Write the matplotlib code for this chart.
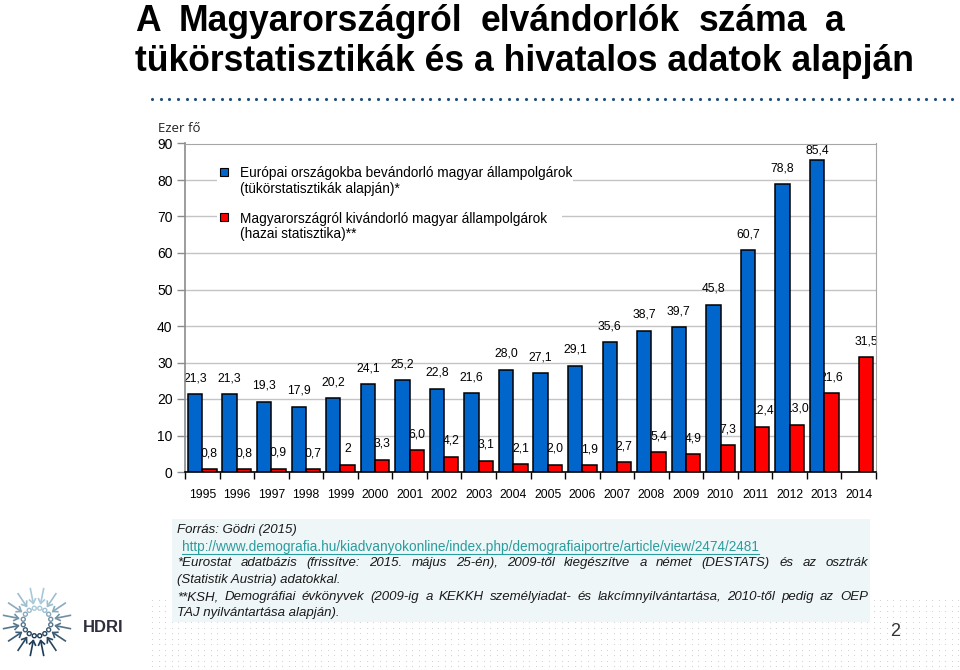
import matplotlib
matplotlib.use('Agg')
import matplotlib.pyplot as plt
import numpy as np
from matplotlib.patches import Rectangle, Circle

# ---------------- data ----------------
years = [str(y) for y in range(1995, 2015)]
mirror_values = [21.3, 21.3, 19.3, 17.9, 20.2, 24.1, 25.2, 22.8, 21.6, 28.0,
                 27.1, 29.1, 35.6, 38.7, 39.7, 45.8, 60.7, 78.8, 85.4, None]
mirror_labels = ['21,3', '21,3', '19,3', '17,9', '20,2', '24,1', '25,2', '22,8',
                 '21,6', '28,0', '27,1', '29,1', '35,6', '38,7', '39,7', '45,8',
                 '60,7', '78,8', '85,4', None]
domestic_values = [0.8, 0.8, 0.9, 0.7, 2, 3.3, 6.0, 4.2, 3.1, 2.1,
                   2.0, 1.9, 2.7, 5.4, 4.9, 7.3, 12.4, 13.0, 21.6, 31.5]
domestic_labels = ['0,8', '0,8', '0,9', '0,7', '2', '3,3', '6,0', '4,2', '3,1',
                   '2,1', '2,0', '1,9', '2,7', '5,4', '4,9', '7,3', '12,4',
                   '13,0', '21,6', '31,5']
y_ticks = [0, 10, 20, 30, 40, 50, 60, 70, 80, 90]
series_names = ['Európai országokba bevándorló magyar állampolgárok\n(tükörstatisztikák alapján)*',
                'Magyarországról kivándorló magyar állampolgárok\n(hazai statisztika)**']
title_lines = ['A Magyarországról elvándorlók száma a',
               'tükörstatisztikák és a hivatalos adatok alapján']
unit_label = 'Ezer fő'
source_line = 'Forrás: Gödri (2015)'
source_url = 'http://www.demografia.hu/kiadvanyokonline/index.php/demografiaiportre/article/view/2474/2481'
note_lines = [
    ('*Eurostat adatbázis (frissítve: 2015. május 25-én), 2009-től kiegészítve a német (DESTATS) és az osztrák', True),
    ('(Statistik Austria) adatokkal.', False),
    ('**KSH, Demográfiai évkönyvek (2009-ig a KEKKH személyiadat- és lakcímnyilvántartása, 2010-től pedig az OEP', True),
    ('TAJ nyilvántartása alapján).', False),
]
page_number = '2'
logo_text = 'HDRI'

BLUE = '#0066CC'
RED = '#FF0000'

plt.rcParams['font.family'] = ['Liberation Sans', 'DejaVu Sans']

W, H = 960, 670
fig = plt.figure(figsize=(W / 100, H / 100), dpi=100)
fig.patch.set_facecolor('white')

# ---------------- main chart ----------------
ax_left, ax_right, ax_top, ax_bottom = 185, 876, 143.5, 472
ax = fig.add_axes([ax_left / W, 1 - ax_bottom / H, (ax_right - ax_left) / W,
                   (ax_bottom - ax_top) / H])
ax.set_zorder(1)

x = np.arange(len(years))
bw = 0.415
mi = [i for i, v in enumerate(mirror_values) if v is not None]
ax.bar(x[mi] - bw / 2, [mirror_values[i] for i in mi], width=bw, color=BLUE,
       edgecolor='black', linewidth=1.1, zorder=3)
ax.bar(x + bw / 2, domestic_values, width=bw, color=RED,
       edgecolor='black', linewidth=1.1, zorder=3)

ax.set_xlim(-0.5, len(years) - 0.5)
ax.set_ylim(0, 90)
ax.set_yticks(y_ticks)
ax.set_yticklabels([str(t) for t in y_ticks], fontsize=10)
ax.yaxis.grid(True, color='#C4C4C4', linewidth=1.0)
ax.set_axisbelow(True)

ax.set_xticks(np.arange(-0.5, len(years), 1.0))
ax.set_xticklabels([])
ax.set_xticks(x, minor=True)
ax.set_xticklabels(years, minor=True, fontsize=8.8)
ax.tick_params(axis='x', which='major', direction='out', length=5, width=1, color='black')
ax.tick_params(axis='x', which='minor', length=0, pad=12)
ax.tick_params(axis='y', direction='out', length=6, width=1, color='#8C8C8C', pad=3)

for s in ['top', 'right']:
    ax.spines[s].set_color('#A6A6A6')
ax.spines['left'].set_color('#8C8C8C')
ax.spines['left'].set_linewidth(1.2)
ax.spines['bottom'].set_color('black')
ax.spines['bottom'].set_linewidth(1.2)

px_per_unit = (ax_bottom - ax_top) / 90.0
off = 16 / px_per_unit
ymax_label = 88.2
for i, (v, lab) in enumerate(zip(mirror_values, mirror_labels)):
    if v is None:
        continue
    ax.text(x[i] - bw / 2, min(v + off, ymax_label), lab, ha='center', va='center',
            fontsize=8.7, zorder=2)
for i, (v, lab) in enumerate(zip(domestic_values, domestic_labels)):
    ax.text(x[i] + bw / 2, min(v + off, ymax_label), lab, ha='center', va='center',
            fontsize=8.7, zorder=2)

# ---------------- overlay (pixel coordinates) ----------------
ov = fig.add_axes([0, 0, 1, 1], zorder=5)
ov.set_xlim(0, W)
ov.set_ylim(H, 0)
ov.axis('off')
ov.patch.set_visible(False)

fig.canvas.draw()
renderer = fig.canvas.get_renderer()


def justify(line, x0, x1, yy, **kw):
    words = line.split(' ')
    tx = [ov.text(0, yy, w_, **kw) for w_ in words]
    widths = [t.get_window_extent(renderer).width for t in tx]
    gap = (x1 - x0 - sum(widths)) / (len(words) - 1)
    cx = x0
    for t, wd in zip(tx, widths):
        t.set_x(cx)
        cx += wd + gap


# title
tkw = dict(fontsize=25.6, fontweight='bold', va='top', ha='left', color='black')
justify(title_lines[0], 135, 845, 4, **tkw)
ov.text(135, 44, title_lines[1], **tkw)
dx = np.arange(152, 960, 8.7)
ov.scatter(dx, np.full(len(dx), 99), s=5, color='#1F4E79', marker='o', linewidths=0)

# unit label
ov.text(158, 128, unit_label, fontsize=9.5, va='center', ha='left',
        fontfamily=['Open Sans', 'DejaVu Sans'], color='#222222')

# legend
leg_rects = [(217, 162, 356, 34), (217, 206, 345, 38)]
leg_y = [172, 217]
for k, (name, col) in enumerate(zip(series_names, [BLUE, RED])):
    rx, ry, rw, rh = leg_rects[k]
    ov.add_patch(Rectangle((rx, ry), rw, rh, facecolor='white', edgecolor='none', zorder=1))
    ov.add_patch(Rectangle((220, leg_y[k] - 4), 8, 8, facecolor=col, edgecolor='black',
                           linewidth=0.8, zorder=2))
    ov.text(240, leg_y[k] - 5.5, name, fontsize=9.8, va='top', ha='left', linespacing=1.12,
            zorder=2)

# bottom dot pattern
gx, gy = np.meshgrid(np.arange(152, 960, 6.5), np.arange(600, 667, 5.5))
ov.scatter(gx.ravel(), gy.ravel(), s=0.6, color='#C9CFD3', linewidths=0, zorder=0)

# footer box
ov.add_patch(Rectangle((172, 519), 698, 103, facecolor='#EEF6F8', edgecolor='none', zorder=1))

fkw = dict(fontsize=9.5, style='italic', color='#1A1A1A', va='center', ha='left', zorder=2)
ov.text(177, 530, source_line, **fkw)
lt = ov.text(182, 547, source_url, **dict(fkw, color='#2A9D9D', style='normal', fontsize=9.8))
ext = lt.get_window_extent(renderer)
ov.plot([182, 182 + ext.width], [553.5, 553.5], color='#2A9D9D', lw=0.8, zorder=2)

x0, x1 = 177, 868
ys = [563, 580, 597, 613]
for (line, just), yy in zip(note_lines, ys):
    if just:
        justify(line, x0, x1, yy, **fkw)
    else:
        ov.text(x0, yy, line, **fkw)

# page number
ov.text(895, 632, page_number, fontsize=13, ha='center', va='center', color='#333333', zorder=2)

# logo
cx0, cy0 = 37, 622
n = 16
c_top = np.array(matplotlib.colors.to_rgb('#A9CADB'))
c_bot = np.array(matplotlib.colors.to_rgb('#1C3A55'))
for k in range(n):
    a = 2 * np.pi * (k + 0.5) / n
    t = (np.sin(a) + 1) / 2  # 0 at top, 1 at bottom
    col = matplotlib.colors.to_hex(c_top * (1 - t) + c_bot * t)
    ca, sa = np.cos(a), np.sin(a)
    ov.add_patch(Circle((cx0 + 14 * ca, cy0 + 14 * sa), 2.0, facecolor='white',
                        edgecolor=col, linewidth=1.0, zorder=2))
    r0, r1 = 19, 34
    ov.plot([cx0 + r0 * ca, cx0 + r1 * ca], [cy0 + r0 * sa, cy0 + r1 * sa], color=col,
            lw=1.2, zorder=2)
    hx, hy = cx0 + r0 * ca, cy0 + r0 * sa
    ov.plot([hx + 4 * ca - 3 * sa, hx, hx + 4 * ca + 3 * sa],
            [hy + 4 * sa + 3 * ca, hy, hy + 4 * sa - 3 * ca],
            color=col, lw=1.2, zorder=2)
ov.text(83, 628, logo_text, fontsize=12, fontweight='bold', ha='left', va='center',
        color='#2E2E3E')

fig.savefig('out.png', dpi=100)
